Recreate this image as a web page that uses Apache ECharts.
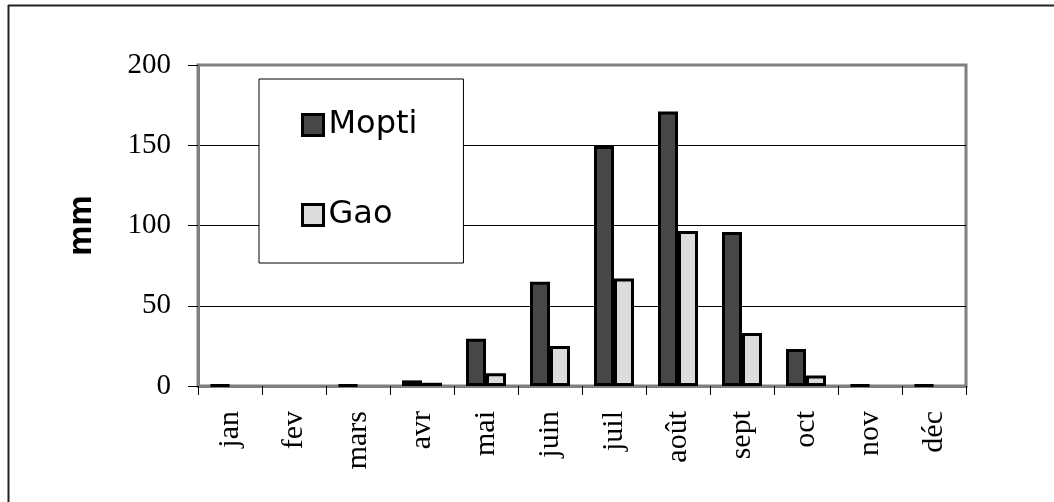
<!DOCTYPE html>
<html>
<head>
<meta charset="utf-8">
<script src="https://cdn.jsdelivr.net/npm/echarts@6/dist/echarts.min.js"></script>
<style>
html,body{margin:0;padding:0;background:#fff;}
#chart{width:1054px;height:502px;}
</style>
</head>
<body>
<div id="chart"></div>
<script>
const categories = ['jan','fev','mars','avr','mai','juin','juil','août','sept','oct','nov','déc'];
const mopti = [0.5, null, 0.5, 3.5, 29.5, 65, 149.5, 171, 96, 23, 0.5, 0.5];
const gao = [null, null, null, 2, 8, 25, 67, 96.5, 33, 6.5, null, null];
const yTicks = [0, 50, 100, 150, 200];

const chart = echarts.init(document.getElementById('chart'), null, {renderer: 'canvas'});
const serif = '"Liberation Serif", "Times New Roman", serif';
const sans = '"DejaVu Sans", sans-serif';

chart.setOption({
  animation: false,
  backgroundColor: '#fff',
  grid: {left: 198, top: 65, right: 88, bottom: 116, show: true, borderColor: '#808080', borderWidth: 3, backgroundColor: 'transparent'},
  legend: {
    orient: 'vertical',
    left: 259, top: 79,
    padding: [30, 46, 32, 42],
    itemGap: 58,
    itemWidth: 21, itemHeight: 21,
    icon: 'rect',
    backgroundColor: '#fff',
    borderColor: '#000', borderWidth: 1,
    textStyle: {fontFamily: sans, fontSize: 32, color: '#000'},
    itemStyle: {borderColor: '#000', borderWidth: 3},
    data: ['Mopti', 'Gao']
  },
  xAxis: {
    type: 'category',
    data: categories,
    axisLine: {lineStyle: {color: '#808080', width: 3}},
    axisTick: {show: true, length: 9, lineStyle: {color: '#000', width: 1}, alignWithLabel: false},
    axisLabel: {rotate: 90, margin: 25, fontFamily: serif, fontSize: 30, color: '#000', interval: 0}
  },
  yAxis: {
    type: 'value',
    min: yTicks[0], max: yTicks[yTicks.length - 1], interval: 50,
    name: 'mm', nameLocation: 'middle', nameRotate: 90, nameGap: 99,
    nameTextStyle: {fontFamily: '"Liberation Sans", Arial, sans-serif', fontWeight: 'bold', fontSize: 34, color: '#000'},
    axisLine: {show: true, lineStyle: {color: '#808080', width: 3}},
    axisTick: {show: true, length: 10, lineStyle: {color: '#000', width: 1}},
    axisLabel: {margin: 27, fontFamily: serif, fontSize: 29, color: '#000'},
    splitLine: {show: true, lineStyle: {color: ['#808080', '#000', '#000', '#000', '#808080'], width: 1}}
  },
  series: [
    {name: 'Mopti', type: 'bar', data: mopti, barWidth: 20, barGap: '0%',
     itemStyle: {color: '#474747', borderColor: '#000', borderWidth: 3}},
    {name: 'Gao', type: 'bar', data: gao, barWidth: 20, barGap: '0%',
     itemStyle: {color: '#dcdcdc', borderColor: '#000', borderWidth: 3}}
  ],
  graphic: [
    {type: 'line', shape: {x1: 8, y1: 5.5, x2: 1054, y2: 5.5}, style: {stroke: '#222', lineWidth: 2}},
    {type: 'line', shape: {x1: 8.5, y1: 5, x2: 8.5, y2: 502}, style: {stroke: '#222', lineWidth: 2}}
  ]
});
</script>
</body>
</html>
